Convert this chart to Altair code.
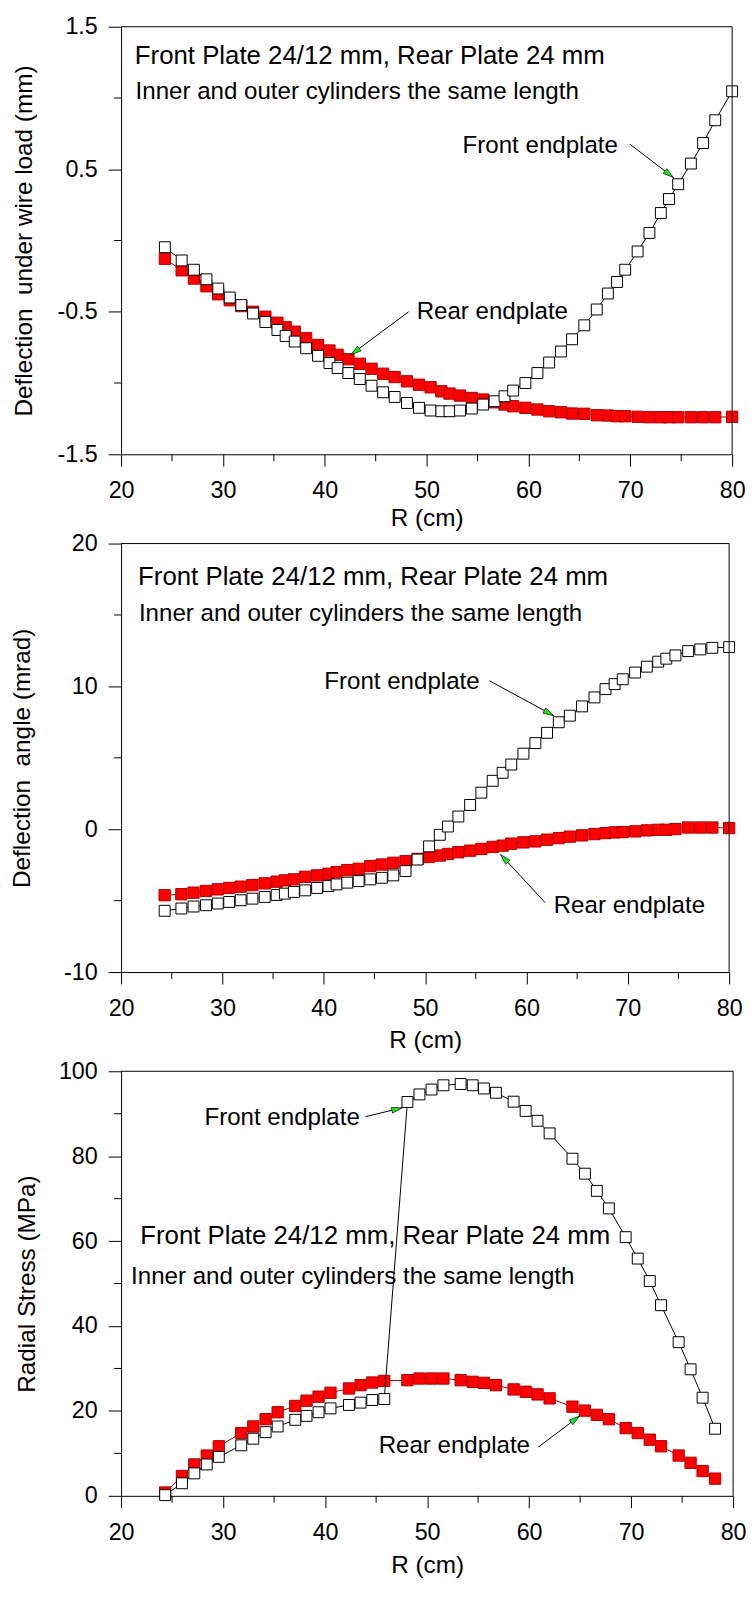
import math
import altair as alt
import pandas as pd

FONT = "Liberation Sans"

# ---------------- data ----------------
R_12 = [24.3, 25.95, 27.15, 28.38, 29.54, 30.67, 31.8, 32.96, 34.17, 35.35,
        36.16, 37.05, 38.17, 39.34, 40.46, 41.26, 42.32, 43.44, 44.59, 45.73,
        46.86, 48.07, 49.25, 50.39, 51.45, 52.25, 53.28, 54.44, 55.55, 56.67,
        57.65, 58.5, 59.7, 60.88, 62.03, 63.19, 64.28, 65.48, 66.71, 67.8,
        68.7, 69.5, 70.72, 71.88, 73.0, 73.8, 74.7, 75.95, 77.15, 78.34, 80.0]

defl_front = [-0.047, -0.14, -0.205, -0.272, -0.337, -0.40, -0.453, -0.512, -0.572, -0.628,
              -0.67, -0.709, -0.756, -0.809, -0.860, -0.895, -0.930, -0.972, -1.019, -1.065,
              -1.098, -1.14, -1.174, -1.193, -1.198, -1.198, -1.193, -1.179, -1.151, -1.128,
              -1.093, -1.053, -1.0, -0.930, -0.856, -0.779, -0.693, -0.595, -0.484, -0.372,
              -0.291, -0.205, -0.077, 0.053, 0.193, 0.291, 0.395, 0.540, 0.684, 0.844, 1.047]

defl_rear = [-0.128, -0.209, -0.267, -0.321, -0.377, -0.419, -0.460, -0.50, -0.535, -0.577,
             -0.609, -0.64, -0.686, -0.733, -0.772, -0.802, -0.833, -0.865, -0.9, -0.935,
             -0.958, -0.988, -1.012, -1.030, -1.058, -1.074, -1.088, -1.105, -1.116, -1.135,
             -1.151, -1.163, -1.174, -1.186, -1.198, -1.205, -1.214, -1.216, -1.226, -1.228,
             -1.233, -1.233, -1.237, -1.240, -1.240, -1.240, -1.240, -1.240, -1.240, -1.240, -1.237]

angle_front = [-5.71, -5.55, -5.41, -5.32, -5.20, -5.09, -4.97, -4.86, -4.74, -4.60,
               -4.51, -4.39, -4.28, -4.11, -3.98, -3.86, -3.74, -3.63, -3.51, -3.40,
               -3.23, -2.93, -2.12, -1.20, -0.39, 0.19, 0.89, 1.70, 2.56, 3.39,
               3.95, 4.53, 5.29, 6.03, 6.75, 7.49, 7.95, 8.60, 9.23, 9.81,
               10.16, 10.50, 10.97, 11.38, 11.73, 11.94, 12.17, 12.47, 12.59, 12.70, 12.75]

angle_rear = [-4.62, -4.55, -4.44, -4.32, -4.21, -4.11, -4.02, -3.91, -3.79, -3.67,
              -3.58, -3.51, -3.33, -3.23, -3.12, -3.00, -2.86, -2.77, -2.58, -2.47,
              -2.35, -2.24, -2.08, -1.94, -1.84, -1.73, -1.61, -1.50, -1.38, -1.24,
              -1.15, -1.01, -0.92, -0.85, -0.73, -0.62, -0.52, -0.43, -0.34, -0.27,
              -0.22, -0.20, -0.15, -0.08, -0.04, -0.04, 0.01, 0.12, 0.12, 0.12, 0.08]

R_3 = [24.32, 25.97, 27.18, 28.4, 29.58, 31.78, 32.96, 34.17, 35.35, 37.08,
       38.18, 39.36, 40.53, 42.34, 43.48, 44.62, 45.8, 48.07, 49.25, 50.43,
       51.6, 53.29, 54.47, 55.57, 56.75, 58.48, 59.66, 60.83, 62.01, 64.25,
       65.47, 66.64, 67.82, 69.47, 70.65, 71.83, 72.93, 74.66, 75.83, 77.01, 78.23]

stress_front = [0.16, 2.96, 5.29, 7.39, 9.18, 11.9, 13.46, 15.0, 16.34, 17.9,
                18.83, 19.69, 20.6, 21.4, 21.95, 22.57, 22.8, 92.76, 94.55, 95.7,
                96.7, 97.0, 96.7, 95.95, 94.94, 92.84, 90.66, 88.33, 85.37, 79.4,
                75.88, 71.83, 67.7, 60.93, 55.88, 50.58, 44.9, 36.19, 29.8, 23.11, 15.8]

stress_rear = [0.78, 4.67, 7.39, 9.49, 11.67, 14.79, 16.34, 18.05, 19.69, 21.17,
               22.41, 23.35, 24.28, 25.29, 26.07, 26.69, 27.08, 27.24, 27.63, 27.63,
               27.63, 27.24, 26.85, 26.61, 26.07, 25.06, 24.51, 23.89, 22.96, 21.0,
               20.08, 19.07, 18.05, 15.95, 14.79, 13.23, 11.67, 9.49, 7.78, 5.84, 4.05]

x_major = [20, 30, 40, 50, 60, 70, 80]
x_minor = [25, 35, 45, 55, 65, 75]

TITLE1 = "Front Plate 24/12 mm, Rear Plate 24 mm"
TITLE2 = "Inner and outer cylinders the same length"

# annotation texts: (label, R, value, font size)
texts_1 = [(TITLE1, 21.35, 1.24, 26), (TITLE2, 21.42, 0.994, 24.3),
           ("Front endplate", 53.53, 0.612, 24.3), ("Rear endplate", 49.02, -0.551, 24.3)]
arrows_1 = [(70.0, 0.674, 74.24, 0.442), (48.24, -0.50, 42.55, -0.802)]

texts_2 = [(TITLE1, 21.68, 17.1, 26), (TITLE2, 21.76, 14.6, 24.3),
           ("Front endplate", 40.05, 9.81, 24.3), ("Rear endplate", 62.69, -5.83, 24.3)]
arrows_2 = [(56.36, 10.39, 62.69, 7.95), (61.83, -5.13, 57.45, -1.77)]

texts_3 = [("Front endplate", 28.17, 87.4, 24.3), (TITLE1, 21.88, 59.4, 26),
           (TITLE2, 20.98, 49.8, 24.3), ("Rear endplate", 45.25, 10.1, 24.3)]
arrows_3 = [(43.95, 89.3, 47.56, 91.4), (60.91, 11.5, 64.95, 18.8)]

ARROW = "M0,0L-2,-0.55L-2,0.55Z"


def panel(R, front, rear, ydom, ymaj, ymin, ytitle, width, plot_h, top_off,
          ytitle_x, xtitle_y, texts, arrows):
    height = plot_h + top_off
    xs = alt.Scale(domain=[20, 80], nice=False, zero=False)
    ys = alt.Scale(domain=ydom, nice=False, zero=False, range=[height, top_off])
    xaxis = alt.Axis(values=x_major, title="R (cm)", titleX=width / 2, titleY=xtitle_y,
                     titleAlign="center", titleBaseline="middle",
                     labelExpr="toString(datum.value)", labelFlush=False,
                     labelOverlap=False, labelPadding=13, tickSize=12, grid=False)
    yaxis = alt.Axis(values=ymaj, title=ytitle, titleX=ytitle_x,
                     titleY=top_off + plot_h / 2, titleAngle=270,
                     titleAlign="center", titleBaseline="middle",
                     labelExpr="toString(datum.value)", labelFlush=False,
                     labelOverlap=False, labelPadding=11, tickSize=13, grid=False)

    def X(f):
        return alt.X(f"{f}:Q", scale=xs, axis=xaxis)

    def Y(f):
        return alt.Y(f"{f}:Q", scale=ys, axis=yaxis)

    df = pd.DataFrame({"R": R, "front": front, "rear": rear})
    base = alt.Chart(df)
    rear_line = base.mark_line(color="#8b0000", strokeWidth=1).encode(x=X("R"), y=Y("rear"))
    rear_pts = base.mark_point(shape="square", filled=True, fill="#ff0000",
                               stroke="#b00000", strokeWidth=1, size=130,
                               opacity=1).encode(x=X("R"), y=Y("rear"))
    front_line = base.mark_line(color="black", strokeWidth=1).encode(x=X("R"), y=Y("front"))
    front_pts = base.mark_point(shape="square", filled=True, fill="white",
                                stroke="black", strokeWidth=1, size=121,
                                opacity=1).encode(x=X("R"), y=Y("front"))

    xminor = alt.Chart(pd.DataFrame({"R": x_minor})).mark_rule(
        color="black", strokeWidth=1).encode(
        x=X("R"), y=alt.value(height), y2=alt.value(height + 7))
    yminor = alt.Chart(pd.DataFrame({"v": ymin})).mark_rule(
        color="black", strokeWidth=1).encode(
        y=Y("v"), x=alt.value(0), x2=alt.value(-7))

    fr = alt.Chart(pd.DataFrame({"a": [0]})).mark_rule(color="black", strokeWidth=1)
    top_rule = fr.encode(x=alt.value(0), x2=alt.value(width), y=alt.value(top_off))
    right_rule = fr.encode(x=alt.value(width), y=alt.value(top_off), y2=alt.value(height))

    sx = width / 60.0
    sy = plot_h / float(ydom[1] - ydom[0])
    adf = pd.DataFrame(arrows, columns=["R", "v", "R2", "v2"])
    adf["ang"] = [
        (math.degrees(math.atan2(-(b2 - b1) * sy, (a2 - a1) * sx)) + 360.0) % 360.0
        for a1, b1, a2, b2 in arrows
    ]
    arrow_lines = alt.Chart(adf).mark_rule(color="black", strokeWidth=1).encode(
        x=X("R"), y=Y("v"), x2="R2:Q", y2="v2:Q")
    heads = alt.Chart(adf).mark_point(shape=ARROW, filled=True, fill="#1ee61e",
                                      stroke="black", strokeWidth=0.6, size=115,
                                      opacity=1).encode(
        x=X("R2"), y=Y("v2"), angle=alt.Angle("ang:Q", scale=None))

    tdf = pd.DataFrame(texts, columns=["label", "R", "v", "fs"])
    txt = alt.Chart(tdf).mark_text(align="left", baseline="alphabetic", font=FONT,
                                   color="black").encode(
        x=X("R"), y=Y("v"), text="label:N", size=alt.Size("fs:Q", scale=None))

    return alt.layer(rear_line, rear_pts, front_line, front_pts, xminor, yminor,
                     top_rule, right_rule, arrow_lines, heads, txt).properties(
        width=width, height=height)


p1 = panel(R_12, defl_front, defl_rear, [-1.5, 1.5], [-1.5, -0.5, 0.5, 1.5],
           [-1.0, 0.0, 1.0], "Deflection\u00a0 under wire load (mm)",
           616, 431, 0, -97.8, 65, texts_1, arrows_1)
p2 = panel(R_12, angle_front, angle_rear, [-10, 20], [-10, 0, 10, 20],
           [-5, 5, 15], "Deflection\u00a0 angle (mrad)",
           613, 432, 0, -99.0, 69, texts_2, arrows_2)
p3 = panel(R_3, stress_front, stress_rear, [0, 100], [0, 20, 40, 60, 80, 100],
           [10, 30, 50, 70, 90], "Radial Stress (MPa)",
           617, 428, 10, -94.2, 70, texts_3, arrows_3)

# fixed-size canvas: the plot origin sits at (padding.left, padding.top)
chart = alt.vconcat(p1, p2, p3, spacing=90, bounds="flush").properties(
    autosize=alt.AutoSizeParams(type="none"),
    padding={"left": 114, "top": 12.5, "right": 632, "bottom": 1565}
).configure_view(
    stroke="transparent"
).configure_axis(
    domainColor="black", domainWidth=1, tickColor="black", tickWidth=1,
    labelColor="black", titleColor="black", labelFont=FONT, titleFont=FONT,
    labelFontSize=23.5, titleFontSize=24.5, titleFontWeight="normal"
)

chart.save("out.html", embed_options={"renderer": "svg", "actions": False})
